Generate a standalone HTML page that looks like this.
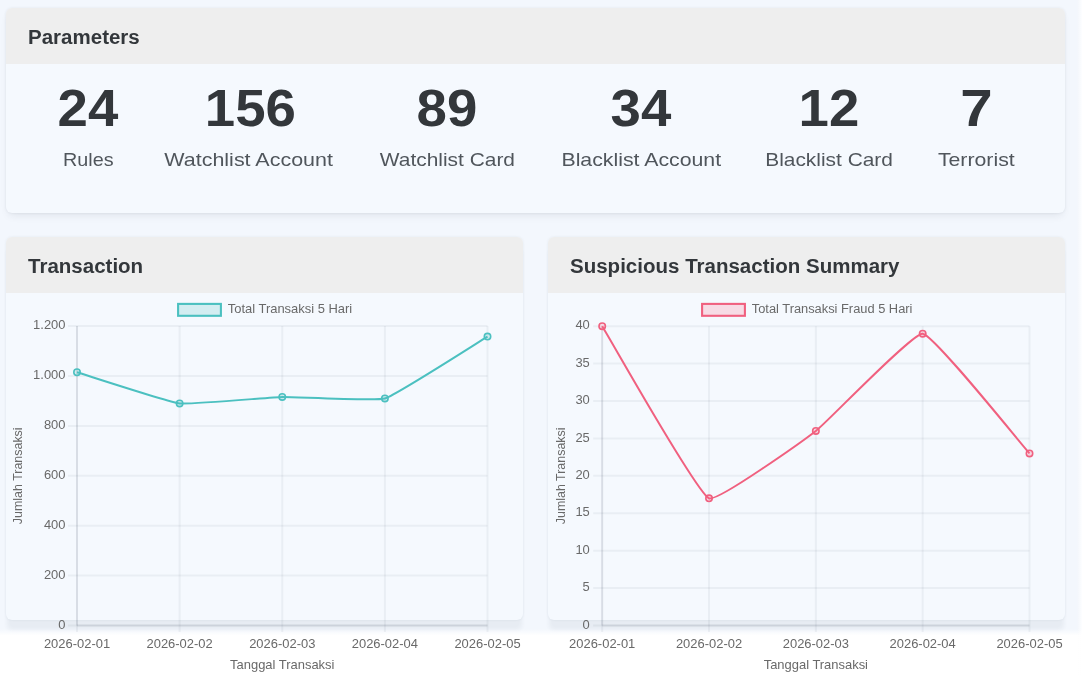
<!DOCTYPE html>
<html><head><meta charset="utf-8"><title>Dashboard</title>
<style>
html,body{margin:0;padding:0;background:#fff;}
body{width:1082px;height:675px;overflow:hidden;position:relative;font-family:"Liberation Sans",sans-serif;}
.bg{position:absolute;left:0;top:0;width:1082px;height:637px;background:#f3f7fd;}
.card{position:absolute;background:#f5f9fe;border-radius:6px;box-shadow:0 0 2.5px rgba(40,50,70,.09),0 5px 8px -3px rgba(40,50,70,.10);}
.head{position:absolute;left:0;top:0;right:0;height:56px;background:#eeeeee;border-radius:6px 6px 0 0;}
.head span{position:absolute;left:22.5px;top:17px;font-weight:bold;font-size:19.5px;line-height:24px;color:#33373b;white-space:nowrap;transform-origin:0 50%;display:inline-block;transform:scaleX(1.052);}
.num{position:absolute;top:78px;width:200px;text-align:center;font-weight:bold;font-size:52px;line-height:60px;color:#33373b;}
.lab{position:absolute;top:148px;width:300px;text-align:center;font-size:19px;line-height:24px;color:#50565c;}
.num span,.lab span{display:inline-block;white-space:nowrap;}
.num,.lab,.head span{will-change:transform;}

.fb{position:absolute;left:0;top:629px;width:1082px;height:46px;background:linear-gradient(to bottom,rgba(255,255,255,0) 0,#fff 6.5px);}
.fr{position:absolute;left:1074.5px;top:0;width:10px;height:675px;background:linear-gradient(to right,rgba(255,255,255,0) 0,rgba(255,255,255,0) 2px,#fff 8px);}
svg{position:absolute;left:0;top:0;will-change:transform;}
.tk{font-family:"Liberation Sans",sans-serif;font-size:12.95px;fill:#696969;}
</style></head>
<body>
<div class="bg"></div>
<div class="card" style="left:5.5px;top:8px;width:1059.5px;height:205px;"><div class="head"><span id="t1">Parameters</span></div></div>
<div class="card" style="left:5.5px;top:237px;width:517.5px;height:383px;box-shadow:0 0 2.5px rgba(40,50,70,.08),0 11px 4px -1px rgba(40,50,70,.055);"><div class="head"><span id="t2">Transaction</span></div></div>
<div class="card" style="left:547.5px;top:237px;width:517.5px;height:383px;box-shadow:0 0 2.5px rgba(40,50,70,.08),0 11px 4px -1px rgba(40,50,70,.055);"><div class="head"><span id="t3">Suspicious Transaction Summary</span></div></div>
<div class="num" style="left:-11.7px"><span style="transform:scaleX(1.05)">24</span></div>
<div class="lab" style="left:-62.2px"><span style="transform:scaleX(1.04)">Rules</span></div>
<div class="num" style="left:150.0px"><span style="transform:scaleX(1.05)">156</span></div>
<div class="lab" style="left:99.4px"><span style="transform:scaleX(1.13)">Watchlist Account</span></div>
<div class="num" style="left:347.3px"><span style="transform:scaleX(1.05)">89</span></div>
<div class="lab" style="left:297.3px"><span style="transform:scaleX(1.1)">Watchlist Card</span></div>
<div class="num" style="left:541.3px"><span style="transform:scaleX(1.05)">34</span></div>
<div class="lab" style="left:491.3px"><span style="transform:scaleX(1.12)">Blacklist Account</span></div>
<div class="num" style="left:729.3px"><span style="transform:scaleX(1.05)">12</span></div>
<div class="lab" style="left:679.3px"><span style="transform:scaleX(1.1)">Blacklist Card</span></div>
<div class="num" style="left:876.0px"><span style="transform:scaleX(1.12)">7</span></div>
<div class="lab" style="left:826.0px"><span style="transform:scaleX(1.12)">Terrorist</span></div>
<div class="fb"></div>
<div class="fr"></div>
<svg width="1082" height="675" viewBox="0 0 1082 675">
<g>
<line x1="68.00" y1="625.50" x2="487.50" y2="625.50" stroke="rgba(20,30,60,0.052)" stroke-width="2"/>
<line x1="68.00" y1="575.60" x2="487.50" y2="575.60" stroke="rgba(20,30,60,0.052)" stroke-width="2"/>
<line x1="68.00" y1="525.70" x2="487.50" y2="525.70" stroke="rgba(20,30,60,0.052)" stroke-width="2"/>
<line x1="68.00" y1="475.80" x2="487.50" y2="475.80" stroke="rgba(20,30,60,0.052)" stroke-width="2"/>
<line x1="68.00" y1="425.90" x2="487.50" y2="425.90" stroke="rgba(20,30,60,0.052)" stroke-width="2"/>
<line x1="68.00" y1="376.00" x2="487.50" y2="376.00" stroke="rgba(20,30,60,0.052)" stroke-width="2"/>
<line x1="68.00" y1="326.10" x2="487.50" y2="326.10" stroke="rgba(20,30,60,0.052)" stroke-width="2"/>
<line x1="77.00" y1="326.10" x2="77.00" y2="632.00" stroke="rgba(20,30,60,0.052)" stroke-width="2"/>
<line x1="179.62" y1="326.10" x2="179.62" y2="632.00" stroke="rgba(20,30,60,0.052)" stroke-width="2"/>
<line x1="282.25" y1="326.10" x2="282.25" y2="632.00" stroke="rgba(20,30,60,0.052)" stroke-width="2"/>
<line x1="384.88" y1="326.10" x2="384.88" y2="632.00" stroke="rgba(20,30,60,0.052)" stroke-width="2"/>
<line x1="487.50" y1="326.10" x2="487.50" y2="632.00" stroke="rgba(20,30,60,0.052)" stroke-width="2"/>
<line x1="77.00" y1="625.50" x2="487.50" y2="625.50" stroke="rgba(20,30,60,0.075)" stroke-width="2"/>
<line x1="77.00" y1="326.10" x2="77.00" y2="625.50" stroke="rgba(20,30,60,0.075)" stroke-width="2"/>
<text x="65.50" y="628.70" text-anchor="end" class="tk">0</text>
<text x="65.50" y="578.80" text-anchor="end" class="tk">200</text>
<text x="65.50" y="528.90" text-anchor="end" class="tk">400</text>
<text x="65.50" y="479.00" text-anchor="end" class="tk">600</text>
<text x="65.50" y="429.10" text-anchor="end" class="tk">800</text>
<text x="65.50" y="379.20" text-anchor="end" class="tk">1.000</text>
<text x="65.50" y="329.30" text-anchor="end" class="tk">1.200</text>
<text x="77.00" y="648.3" text-anchor="middle" class="tk">2026-02-01</text>
<text x="179.62" y="648.3" text-anchor="middle" class="tk">2026-02-02</text>
<text x="282.25" y="648.3" text-anchor="middle" class="tk">2026-02-03</text>
<text x="384.88" y="648.3" text-anchor="middle" class="tk">2026-02-04</text>
<text x="487.50" y="648.3" text-anchor="middle" class="tk">2026-02-05</text>
<text x="282.25" y="669.3" text-anchor="middle" class="tk">Tanggal Transaksi</text>
<text transform="translate(21.50 475.80) rotate(-90) scale(0.962 1)" text-anchor="middle" class="tk">Jumlah Transaksi</text>
<rect x="178.10" y="303.9" width="42.80" height="11.9" fill="rgba(75,192,192,0.2)" stroke="#4bc0c0" stroke-width="2.1"/>
<text x="227.80" y="313.2" class="tk" style="font-size:12.95px">Total Transaksi 5 Hari</text>
<path d="M77.00 372.26 C87.26 375.38 169.15 402.18 179.62 403.44 C189.67 404.65 271.98 397.21 282.25 396.96 C292.50 396.71 375.41 401.24 384.88 398.46 C395.93 395.20 477.24 342.77 487.50 336.58" fill="none" stroke="#4bc0c0" stroke-width="2.0" stroke-linejoin="round"/>
<circle cx="77.00" cy="372.26" r="3.2" fill="rgba(75,192,192,0.2)" stroke="#4bc0c0" stroke-width="1.6"/>
<circle cx="179.62" cy="403.44" r="3.2" fill="rgba(75,192,192,0.2)" stroke="#4bc0c0" stroke-width="1.6"/>
<circle cx="282.25" cy="396.96" r="3.2" fill="rgba(75,192,192,0.2)" stroke="#4bc0c0" stroke-width="1.6"/>
<circle cx="384.88" cy="398.46" r="3.2" fill="rgba(75,192,192,0.2)" stroke="#4bc0c0" stroke-width="1.6"/>
<circle cx="487.50" cy="336.58" r="3.2" fill="rgba(75,192,192,0.2)" stroke="#4bc0c0" stroke-width="1.6"/>
</g>
<g>
<line x1="593.20" y1="625.50" x2="1029.50" y2="625.50" stroke="rgba(20,30,60,0.052)" stroke-width="2"/>
<line x1="593.20" y1="588.09" x2="1029.50" y2="588.09" stroke="rgba(20,30,60,0.052)" stroke-width="2"/>
<line x1="593.20" y1="550.67" x2="1029.50" y2="550.67" stroke="rgba(20,30,60,0.052)" stroke-width="2"/>
<line x1="593.20" y1="513.26" x2="1029.50" y2="513.26" stroke="rgba(20,30,60,0.052)" stroke-width="2"/>
<line x1="593.20" y1="475.85" x2="1029.50" y2="475.85" stroke="rgba(20,30,60,0.052)" stroke-width="2"/>
<line x1="593.20" y1="438.44" x2="1029.50" y2="438.44" stroke="rgba(20,30,60,0.052)" stroke-width="2"/>
<line x1="593.20" y1="401.02" x2="1029.50" y2="401.02" stroke="rgba(20,30,60,0.052)" stroke-width="2"/>
<line x1="593.20" y1="363.61" x2="1029.50" y2="363.61" stroke="rgba(20,30,60,0.052)" stroke-width="2"/>
<line x1="593.20" y1="326.20" x2="1029.50" y2="326.20" stroke="rgba(20,30,60,0.052)" stroke-width="2"/>
<line x1="602.20" y1="326.20" x2="602.20" y2="632.00" stroke="rgba(20,30,60,0.052)" stroke-width="2"/>
<line x1="709.03" y1="326.20" x2="709.03" y2="632.00" stroke="rgba(20,30,60,0.052)" stroke-width="2"/>
<line x1="815.85" y1="326.20" x2="815.85" y2="632.00" stroke="rgba(20,30,60,0.052)" stroke-width="2"/>
<line x1="922.67" y1="326.20" x2="922.67" y2="632.00" stroke="rgba(20,30,60,0.052)" stroke-width="2"/>
<line x1="1029.50" y1="326.20" x2="1029.50" y2="632.00" stroke="rgba(20,30,60,0.052)" stroke-width="2"/>
<line x1="602.20" y1="625.50" x2="1029.50" y2="625.50" stroke="rgba(20,30,60,0.075)" stroke-width="2"/>
<line x1="602.20" y1="326.20" x2="602.20" y2="625.50" stroke="rgba(20,30,60,0.075)" stroke-width="2"/>
<text x="589.80" y="628.70" text-anchor="end" class="tk">0</text>
<text x="589.80" y="591.29" text-anchor="end" class="tk">5</text>
<text x="589.80" y="553.88" text-anchor="end" class="tk">10</text>
<text x="589.80" y="516.46" text-anchor="end" class="tk">15</text>
<text x="589.80" y="479.05" text-anchor="end" class="tk">20</text>
<text x="589.80" y="441.64" text-anchor="end" class="tk">25</text>
<text x="589.80" y="404.22" text-anchor="end" class="tk">30</text>
<text x="589.80" y="366.81" text-anchor="end" class="tk">35</text>
<text x="589.80" y="329.40" text-anchor="end" class="tk">40</text>
<text x="602.20" y="648.3" text-anchor="middle" class="tk">2026-02-01</text>
<text x="709.03" y="648.3" text-anchor="middle" class="tk">2026-02-02</text>
<text x="815.85" y="648.3" text-anchor="middle" class="tk">2026-02-03</text>
<text x="922.67" y="648.3" text-anchor="middle" class="tk">2026-02-04</text>
<text x="1029.50" y="648.3" text-anchor="middle" class="tk">2026-02-05</text>
<text x="815.85" y="669.3" text-anchor="middle" class="tk">Tanggal Transaksi</text>
<text transform="translate(564.80 475.85) rotate(-90) scale(0.962 1)" text-anchor="middle" class="tk">Jumlah Transaksi</text>
<rect x="702.10" y="303.9" width="42.80" height="11.9" fill="rgba(255,99,132,0.2)" stroke="#f0607f" stroke-width="2.1"/>
<text x="751.80" y="313.2" class="tk" style="font-size:12.85px">Total Transaksi Fraud 5 Hari</text>
<path d="M602.20 326.20 C612.88 343.41 695.86 491.84 709.03 498.30 C717.23 502.32 805.89 438.63 815.85 430.95 C827.25 422.17 912.55 332.62 922.67 333.68 C933.92 334.86 1018.82 441.43 1029.50 453.40" fill="none" stroke="#f0607f" stroke-width="2.0" stroke-linejoin="round"/>
<circle cx="602.20" cy="326.20" r="3.2" fill="rgba(255,99,132,0.2)" stroke="#f0607f" stroke-width="1.6"/>
<circle cx="709.03" cy="498.30" r="3.2" fill="rgba(255,99,132,0.2)" stroke="#f0607f" stroke-width="1.6"/>
<circle cx="815.85" cy="430.95" r="3.2" fill="rgba(255,99,132,0.2)" stroke="#f0607f" stroke-width="1.6"/>
<circle cx="922.67" cy="333.68" r="3.2" fill="rgba(255,99,132,0.2)" stroke="#f0607f" stroke-width="1.6"/>
<circle cx="1029.50" cy="453.40" r="3.2" fill="rgba(255,99,132,0.2)" stroke="#f0607f" stroke-width="1.6"/>
</g>
</svg>
</body></html>
